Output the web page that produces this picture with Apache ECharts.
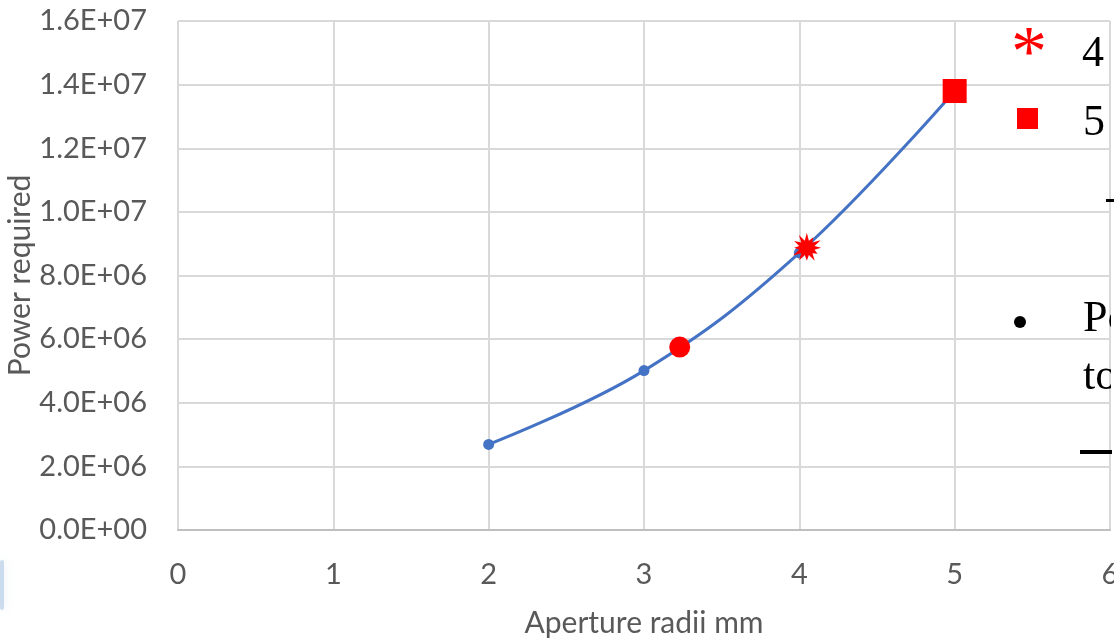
<!DOCTYPE html>
<html>
<head>
<meta charset="utf-8">
<title>Power required vs aperture radii</title>
<script src="https://cdn.jsdelivr.net/npm/echarts@6/dist/echarts.min.js"></script>
<style>
  html, body { margin: 0; padding: 0; background: #ffffff; }
  #chart { width: 1114px; height: 639px; }
</style>
</head>
<body>
<div id="chart"></div>
<script>
// Aperture radius (mm) and the power required for it
const radii = [2, 3, 4, 5];
const power = [2.69e6, 5.01e6, 8.71e6, 13.8e6];

// Highlighted operating points (circle, burst, square)
const markRadii = [3.23, 4.05, 5.0];
const markPower = [5.75e6, 8.9e6, 13.8e6];

// Axis tick values
const xTicks = [0, 1, 2, 3, 4, 5, 6];
const yTicks = [0, 2e6, 4e6, 6e6, 8e6, 1e7, 1.2e7, 1.4e7, 1.6e7];

// Side notes
const keyLabels = ['4', '5'];
const noteLines = ['Po', 'to'];

// Explosion-shaped marker outline
function burstPath() {
  const outer = [1, 0.82, 1, 0.9, 0.78, 1, 0.86, 0.96, 1, 0.8, 0.92, 1];
  const inner = 0.5;
  const n = outer.length;
  let d = '';
  for (let i = 0; i < n * 2; i++) {
    const a = (Math.PI * i) / n - Math.PI / 2;
    const r = i % 2 === 0 ? outer[i / 2] : inner;
    const x = (50 + 50 * r * Math.cos(a)).toFixed(2);
    const y = (50 + 50 * r * Math.sin(a)).toFixed(2);
    d += (i === 0 ? 'M' : 'L') + x + ',' + y;
  }
  return 'path://' + d + 'Z';
}

function sciLabel(v) {
  const parts = Number(v).toExponential(1).split('e');
  const e = parseInt(parts[1], 10);
  return parts[0] + 'E' + (e < 0 ? '-' : '+') + String(Math.abs(e)).padStart(2, '0');
}

const axisFont = 'Lato, "Open Sans", sans-serif';
const grey = '#595959';
const markSymbols = ['circle', burstPath(), 'rect'];
const markSizes = [21, 28, 24];

const chart = echarts.init(document.getElementById('chart'), null, { renderer: 'canvas' });

chart.setOption({
  animation: false,
  grid: { left: 178, right: 4, top: 21, bottom: 109, containLabel: false, outerBoundsMode: 'none' },
  xAxis: {
    type: 'value',
    min: xTicks[0],
    max: xTicks[xTicks.length - 1],
    interval: 1,
    name: 'Aperture radii mm',
    nameLocation: 'middle',
    nameGap: 78,
    nameMoveOverlap: false,
    nameTextStyle: { color: grey, fontFamily: axisFont, fontSize: 30 },
    axisLine: { show: true, lineStyle: { color: '#bfbfbf', width: 2 } },
    axisTick: { show: false },
    axisLabel: { color: grey, fontFamily: axisFont, fontSize: 29, margin: 30 },
    splitLine: { show: true, lineStyle: { color: '#d9d9d9', width: 2 } }
  },
  yAxis: {
    type: 'value',
    min: yTicks[0],
    max: yTicks[yTicks.length - 1],
    interval: 2e6,
    name: 'Power required',
    nameLocation: 'middle',
    nameGap: 143,
    nameMoveOverlap: false,
    nameTextStyle: { color: grey, fontFamily: axisFont, fontSize: 30 },
    axisLine: { show: false },
    axisTick: { show: false },
    axisLabel: { color: grey, fontFamily: axisFont, fontSize: 29, margin: 31, formatter: sciLabel },
    splitLine: { show: true, lineStyle: { color: '#d9d9d9', width: 2 } }
  },
  series: [
    {
      type: 'line',
      data: radii.map((r, i) => [r, power[i]]),
      smooth: 0.4,
      symbol: 'circle',
      symbolSize: 11,
      showSymbol: true,
      lineStyle: { color: '#4472c4', width: 3 },
      itemStyle: { color: '#4472c4' },
      z: 3
    },
    {
      type: 'scatter',
      data: markRadii.map((r, i) => ({
        value: [r, markPower[i]],
        symbol: markSymbols[i],
        symbolSize: markSizes[i]
      })),
      itemStyle: { color: '#ff0000', opacity: 1 },
      z: 4
    }
  ],
  graphic: [
    // key: asterisk and square with their numbers
    { type: 'text', left: 1011, top: 20, z: 10,
      style: { text: '*', font: '72px "Liberation Serif", serif', fill: '#ff0000' } },
    { type: 'rect', shape: { x: 1017, y: 108, width: 21, height: 21 }, z: 10,
      style: { fill: '#ff0000' } },
    { type: 'text', x: 1082, y: 76, z: 10,
      style: { text: keyLabels[0], font: '44px "Liberation Serif", serif', fill: '#000000', verticalAlign: 'bottom' } },
    { type: 'text', x: 1083, y: 145, z: 10,
      style: { text: keyLabels[1], font: '44px "Liberation Serif", serif', fill: '#000000', verticalAlign: 'bottom' } },
    { type: 'rect', shape: { x: 1106, y: 199, width: 8, height: 3 }, z: 10,
      style: { fill: '#000000' } },
    // bullet note
    { type: 'circle', shape: { cx: 1020, cy: 322, r: 6 }, z: 10, style: { fill: '#000000' } },
    { type: 'text', x: 1083, y: 341, z: 10,
      style: { text: noteLines[0], font: '44px "Liberation Serif", serif', fill: '#000000', verticalAlign: 'bottom' } },
    { type: 'text', x: 1083, y: 399, z: 10,
      style: { text: noteLines[1], font: '44px "Liberation Serif", serif', fill: '#000000', verticalAlign: 'bottom' } },
    { type: 'rect', shape: { x: 1111, y: 290, width: 3, height: 130 }, z: 11,
      style: { fill: '#ffffff' } },
    { type: 'rect', shape: { x: 1080, y: 450, width: 32, height: 4 }, z: 10,
      style: { fill: '#000000' } },
    // faint blue edge at lower left
    { type: 'rect', shape: { x: 0, y: 560, width: 4, height: 50, r: 2 }, z: 1,
      style: { fill: 'rgba(150,185,220,0.45)', shadowBlur: 8, shadowColor: 'rgba(150,185,220,0.6)' } }
  ]
});
</script>
</body>
</html>
